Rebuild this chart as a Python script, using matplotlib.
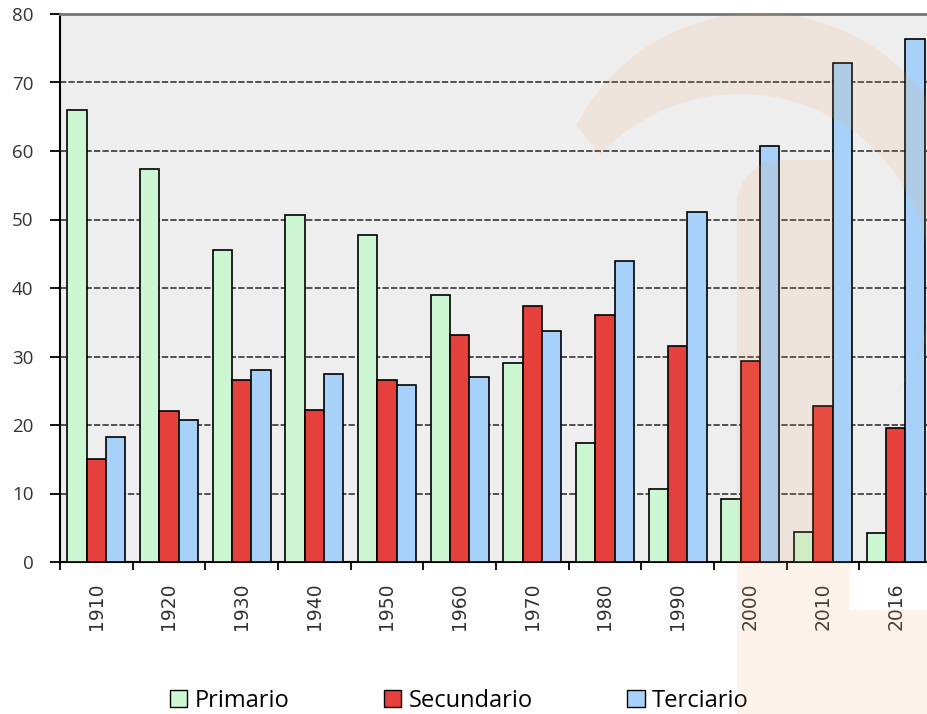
import matplotlib
matplotlib.use("Agg")
import matplotlib.pyplot as plt
import numpy as np
from matplotlib.patches import Polygon

years = ["1910", "1920", "1930", "1940", "1950", "1960", "1970", "1980", "1990", "2000", "2010", "2016"]
primario = [66.0, 57.4, 45.6, 50.6, 47.7, 39.0, 29.1, 17.4, 10.7, 9.2, 4.4, 4.3]
secundario = [15.0, 22.1, 26.5, 22.2, 26.5, 33.1, 37.4, 36.1, 31.6, 29.4, 22.8, 19.6]
terciario = [18.2, 20.8, 28.0, 27.4, 25.9, 27.0, 33.7, 43.9, 51.1, 60.7, 72.9, 76.4]
series_names = ["Primario", "Secundario", "Terciario"]
colors = ["#ccf7d2", "#e5403c", "#a7d1f8"]

W, H = 928, 714
fig = plt.figure(figsize=(W / 100, H / 100), dpi=100)
ax = fig.add_axes([60 / W, (H - 562) / H, 872 / W, 548 / H])
ax.set_facecolor("#eeeeee")

x = np.arange(len(years))
bw = 0.267
for i, (vals, name, c) in enumerate(zip([primario, secundario, terciario], series_names, colors)):
    ax.bar(x + (i - 1) * bw, vals, width=bw, color=c, edgecolor="black",
           linewidth=1.2, label=name, zorder=3)

ax.set_xlim(-0.5, len(years) - 0.5)
ax.set_ylim(0, 80)
ax.set_yticks(range(0, 81, 10))
ax.yaxis.grid(True, linestyle=(0, (3.5, 1.2)), color="#444444", linewidth=1.3, zorder=1)
ax.set_axisbelow(True)

ax.set_xticks(x)
ax.set_xticklabels(years, rotation=90, fontsize=13.5, family="DejaVu Sans", color="#333333")
ax.set_xticks(np.arange(-0.5, len(years), 1.0), minor=True)
ax.tick_params(axis="x", which="major", length=0, pad=15)
ax.tick_params(axis="x", which="minor", length=6, width=1.3, direction="out", color="black")
ax.tick_params(axis="y", length=7, width=1.3, direction="out", pad=12, color="black")
for lab in ax.get_yticklabels():
    lab.set_family("Open Sans")
    lab.set_fontsize(13.5)
    lab.set_color("#333333")

ax.spines["left"].set_linewidth(1.5)
ax.spines["bottom"].set_linewidth(1.5)
ax.spines["top"].set_color("#777777")
ax.spines["top"].set_linewidth(2)
ax.spines["right"].set_visible(False)

leg = fig.legend(loc="center", bbox_to_anchor=(459 / W, 13 / H), ncol=3, frameon=False,
                 handlelength=0.75, handleheight=0.75, handletextpad=0.3, columnspacing=4.0,
                 prop={"family": ["Liberation Sans Narrow", "Open Sans"], "size": 17})
for h in leg.legend_handles:
    h.set_linewidth(1.0)

# faint watermark logo (decoration, in pixel geometry)
def px(pts):
    pts = np.asarray(pts, dtype=float)
    return np.column_stack([pts[:, 0] / W, 1 - pts[:, 1] / H])

wm_color = "#f2a35c"
wm_alpha = 0.12
# crescent band
t_out = np.radians(np.linspace(153, -35, 120))
outer = np.column_stack([760 + 206 * np.cos(t_out), 219 - 206 * np.sin(t_out)])
t_in = np.radians(np.linspace(-35, 137, 120))
inner = np.column_stack([740 + 191 * np.cos(t_in), 285 - 191 * np.sin(t_in)])
crescent = Polygon(px(np.vstack([outer, inner])), closed=True, transform=fig.transFigure,
                   facecolor=wm_color, edgecolor="none", alpha=wm_alpha, zorder=10)
fig.add_artist(crescent)
# stem with rounded top-left corner
r = 45
tc = np.radians(np.linspace(180, 90, 30))
corner = np.column_stack([737 + r + r * np.cos(tc), 160 + r - r * np.sin(tc)])
stem = np.vstack([corner, [[833, 160], [833, 562], [850, 562], [850, 610],
                           [928, 610], [928, 714], [737, 714]]])
stem_patch = Polygon(px(stem), closed=True, transform=fig.transFigure,
                     facecolor=wm_color, edgecolor="none", alpha=wm_alpha, zorder=10)
fig.add_artist(stem_patch)

fig.savefig("out.png", dpi=100)
